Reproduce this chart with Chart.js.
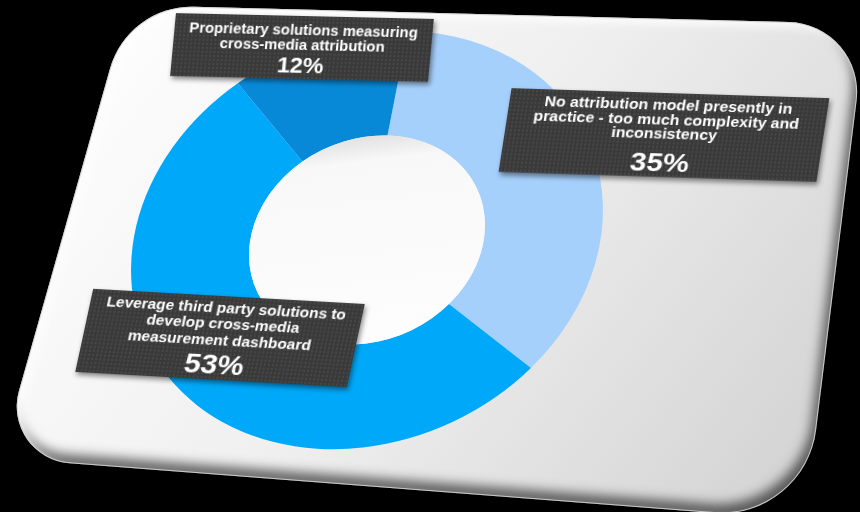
<!DOCTYPE html>
<html>
<head>
<meta charset="utf-8">
<title>Cross-media attribution</title>
<script src="https://cdn.jsdelivr.net/npm/chart.js@4.4.1/dist/chart.umd.min.js"></script>
<style>
  html, body { margin: 0; padding: 0; background: #000; }
  #wrap { position: relative; width: 860px; height: 512px; overflow: hidden; }
  #wrap canvas { position: absolute; left: 0; top: 0; }
  .tag {
    position: absolute;
    box-sizing: border-box;
    background-color: #393939;
    background-image: radial-gradient(rgba(255,255,255,0.07) 1px, transparent 1.3px);
    background-size: 4px 4px;
    box-shadow: 2px 3px 5px rgba(0,0,0,0.45);
    color: #fff;
    font-family: "Liberation Sans", Arial, sans-serif;
    font-weight: bold;
    text-align: center;
    display: flex;
    flex-direction: column;
    justify-content: flex-start;
    transform-origin: 50% 50%;
  }
  .tag .t { white-space: nowrap; }
</style>
</head>
<body>
<div id="wrap">
  <canvas id="donut" width="860" height="512"></canvas>
</div>
<script>
// data
const categories = [
  "No attribution model presently in practice - too much complexity and inconsistency",
  "Leverage third party solutions to develop cross-media measurement dashboard",
  "Proprietary solutions measuring cross-media attribution"
];
const shares = [35, 53, 12];
const labelLines = [
  ["No attribution model presently in", "practice - too much complexity and", "inconsistency"],
  ["Leverage third party solutions to", "develop cross-media", "measurement dashboard"],
  ["Proprietary solutions measuring", "cross-media attribution"]
];
const sliceColors = ["#a6d0fc", "#00a8f9", "#0889d8"];

// label box layout: centre, size, tilt, skew, text sizes and spacing
const tagLayout = [
  { cx: 664, cy: 135, w: 318, h: 84, rot: 1.8, skew: -7, pad: 5, font: 14, sx: 1.13, lh: 14.5, pct: 26, plh: 40 },
  { cx: 220, cy: 338, w: 272, h: 84, rot: 3.2, skew: -9, pad: 4, font: 14, sx: 1.1, lh: 16, pct: 27, plh: 34 },
  { cx: 302, cy: 47, w: 258, h: 63, rot: 1.3, skew: -4, pad: 7, font: 14, sx: 1.06, lh: 15, pct: 22, plh: 26 }
];

// tilted card corners and corner radii
const card = [
  { x: 128, y: 5, r: 85 },
  { x: 866, y: 24, r: 70 },
  { x: 805, y: 520, r: 95 },
  { x: 0, y: 458, r: 57 }
];

function traceCard(ctx) {
  const n = card.length;
  const a = card[n - 1], b = card[0];
  ctx.moveTo((a.x + b.x) / 2, (a.y + b.y) / 2);
  for (let i = 0; i < n; i++) {
    const p = card[i], q = card[(i + 1) % n];
    ctx.arcTo(p.x, p.y, (p.x + q.x) / 2, (p.y + q.y) / 2, p.r);
  }
  ctx.closePath();
}

const cardPlugin = {
  id: "card",
  beforeDraw(chart) {
    const ctx = chart.ctx;
    ctx.save();
    ctx.fillStyle = "#000";
    ctx.fillRect(0, 0, chart.width, chart.height);

    ctx.beginPath();
    traceCard(ctx);
    const g = ctx.createLinearGradient(150, 30, 780, 510);
    g.addColorStop(0, "#fcfcfc");
    g.addColorStop(0.45, "#efefef");
    g.addColorStop(1, "#d3d3d3");
    ctx.fillStyle = g;
    ctx.fill();
    ctx.clip();

    // dark rim along bottom / right
    ctx.beginPath();
    ctx.rect(-600, -600, 2060, 1712);
    traceCard(ctx);
    ctx.fillStyle = "#000";
    ctx.shadowColor = "rgba(0,0,0,0.6)";
    ctx.shadowBlur = 12;
    ctx.shadowOffsetX = -4;
    ctx.shadowOffsetY = -9;
    ctx.fill("evenodd");

    // light bevel along top / left
    ctx.beginPath();
    ctx.rect(-600, -600, 2060, 1712);
    traceCard(ctx);
    ctx.shadowColor = "rgba(255,255,255,0.95)";
    ctx.shadowBlur = 8;
    ctx.shadowOffsetX = 5;
    ctx.shadowOffsetY = 5;
    ctx.fill("evenodd");

    ctx.shadowColor = "transparent";
    ctx.beginPath();
    traceCard(ctx);
    ctx.lineWidth = 2;
    ctx.strokeStyle = "rgba(210,210,210,0.9)";
    ctx.stroke();
    ctx.restore();
  }
};

// the ring is seen at an angle: stretch it into a tilted ellipse
function ringTransform(chart) {
  const ctx = chart.ctx;
  const a = chart.chartArea;
  const cx = (a.left + a.right) / 2, cy = (a.top + a.bottom) / 2;
  ctx.translate(cx, cy);
  ctx.transform(1.14, -0.145, 0, 1, 0, 0);
  ctx.translate(-cx, -cy);
  return { cx, cy };
}

const ellipsePlugin = {
  id: "ellipse",
  beforeDatasetsDraw(chart) {
    chart.ctx.save();
    ringTransform(chart);
  },
  afterDatasetsDraw(chart) {
    const ctx = chart.ctx;
    ctx.restore();
    // soft white hole
    const arc = chart.getDatasetMeta(0).data[0];
    ctx.save();
    const c = ringTransform(chart);
    const r = arc.innerRadius;
    const g = ctx.createLinearGradient(0, c.cy - r, 0, c.cy + r);
    g.addColorStop(0, "#e2e2e2");
    g.addColorStop(0.12, "#f8f8f8");
    g.addColorStop(1, "#fdfdfd");
    ctx.beginPath();
    ctx.arc(c.cx, c.cy, r, 0, Math.PI * 2);
    ctx.fillStyle = g;
    ctx.fill();
    ctx.restore();
  }
};

new Chart(document.getElementById("donut"), {
  type: "doughnut",
  data: {
    labels: categories,
    datasets: [{
      data: shares,
      backgroundColor: sliceColors,
      borderWidth: 0,
      clip: false
    }]
  },
  options: {
    responsive: false,
    animation: false,
    rotation: 10,
    cutout: "50%",
    layout: { padding: { left: 160, right: 286, top: 33, bottom: 65 } },
    plugins: {
      legend: { display: false },
      tooltip: { enabled: false }
    }
  },
  plugins: [cardPlugin, ellipsePlugin]
});

// label boxes
const wrap = document.getElementById("wrap");
tagLayout.forEach((pos, i) => {
  const div = document.createElement("div");
  div.className = "tag";
  div.style.left = (pos.cx - pos.w / 2) + "px";
  div.style.top = (pos.cy - pos.h / 2) + "px";
  div.style.width = pos.w + "px";
  div.style.height = pos.h + "px";
  div.style.paddingTop = pos.pad + "px";
  div.style.transform = `rotate(${pos.rot}deg) skewX(${pos.skew}deg)`;
  const lineStyle = `font-size:${pos.font}px;line-height:${pos.lh}px;transform:scaleX(${pos.sx})`;
  let html = labelLines[i].map((l) => `<div class="t" style="${lineStyle}">${l}</div>`).join("");
  html += `<div class="p" style="font-size:${pos.pct}px;line-height:${pos.plh}px;transform:scaleX(${pos.sx})">${shares[i]}%</div>`;
  div.innerHTML = html;
  wrap.appendChild(div);
});
</script>
</body>
</html>
